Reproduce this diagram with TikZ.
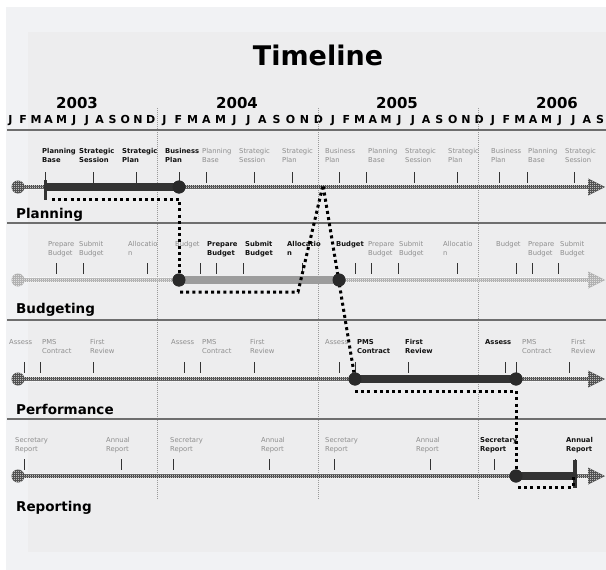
\documentclass[tikz,border=0pt]{standalone}
\usepackage{fontspec}
\setmainfont{DejaVu Sans}
\usetikzlibrary{patterns,calc}

\definecolor{bgc}{HTML}{F1F2F4}
\definecolor{bgtex}{HTML}{EDEDEE}
\definecolor{sepc}{HTML}{6E6E6E}
\definecolor{grayt}{HTML}{8E8E8E}
\definecolor{darkt}{HTML}{111111}
\definecolor{barc}{HTML}{333333}
\definecolor{axdark}{HTML}{3A3A3A}
\definecolor{axlight}{HTML}{A6A6A6}
\definecolor{budbar}{HTML}{9C9C9C}
\definecolor{dotfill}{HTML}{2A2A2A}

\pgfdeclarepatternformonly{halftone}{\pgfqpoint{0pt}{0pt}}{\pgfqpoint{2pt}{2pt}}{\pgfqpoint{2pt}{2pt}}{%
  \pgfpathrectangle{\pgfqpoint{0pt}{0pt}}{\pgfqpoint{1pt}{1pt}}%
  \pgfpathrectangle{\pgfqpoint{1pt}{1pt}}{\pgfqpoint{1pt}{1pt}}%
  \pgfusepath{fill}}

\tikzset{
  lblk/.style={font=\fontsize{6.8}{8}\selectfont\bfseries, text=darkt, anchor=base west, inner sep=0pt},
  lblg/.style={font=\fontsize{6.8}{8}\selectfont, text=grayt, anchor=base west, inner sep=0pt},
  tickln/.style={draw=black!80, line width=0.8pt},
  sepline/.style={draw=sepc, line width=1.3pt},
  yearline/.style={draw=black!40, line width=0.5pt, dash pattern=on 1pt off 1pt},
  linkdots/.style={draw=black, line width=3pt, dash pattern=on 3pt off 3.2pt},
  dotnode/.style={circle, fill=dotfill, minimum size=13pt, inner sep=0pt, outer sep=0pt},
  monthf/.style={font=\fontsize{11}{12}\selectfont\bfseries, anchor=base, inner sep=0pt},
  yearf/.style={font=\fontsize{15}{16}\selectfont\bfseries, anchor=base, inner sep=0pt},
  sectf/.style={font=\fontsize{13.5}{15}\selectfont\bfseries, anchor=base west, inner sep=0pt},
  titlef/.style={font=\fontsize{27}{30}\selectfont\bfseries, anchor=base, inner sep=0pt},
  barln/.style={draw=barc, line width=8pt},
}

% label + tick: name, label x, tick x, line1, line2, style
\newcommand\lt[6]{%
  \node[#6] (#1a) at (#2,\rb) {#4};
  \if\relax\detokenize{#5}\relax\else\node[#6] (#1b) at (#2,\rb+9.5) {#5};\fi
  \draw[tickln] (#3,\rta) -- (#3,\rtb);}

% axis row: name prefix, y, colour
\newcommand\axrow[3]{%
  \fill[#3] (18,#2-2.2) rectangle (590,#2+2.2);
  \fill[pattern=halftone, pattern color=white] (18,#2-2.2) rectangle (590,#2+2.2);
  \fill[#3] (588,#2-8.5) -- (605,#2) -- (588,#2+8.5) -- cycle;
  \fill[pattern=halftone, pattern color=white] (588,#2-8.5) -- (605,#2) -- (588,#2+8.5) -- cycle;
  \node[circle, fill=#3, minimum size=13pt, inner sep=0pt] (#1circ) at (18,#2) {};
  \fill[pattern=halftone, pattern color=white] (18,#2) circle (6.5pt);}

\begin{document}
\begin{tikzpicture}[x=1pt,y=-1pt]
\useasboundingbox (0,0) rectangle (606,570);
\fill[white] (0,0) rectangle (606,570);
\fill[bgc] (6,7) rectangle (606,570);
\fill[bgtex] (28,32) rectangle (606,552);

% title, years, months
\node[titlef] (title) at (318,65) {Timeline};
\node[yearf] (y2003) at (77,108) {2003};
\node[yearf] (y2004) at (237,108) {2004};
\node[yearf] (y2005) at (397,108) {2005};
\node[yearf] (y2006) at (557,108) {2006};
\foreach \m [count=\i from 0] in {J,F,M,A,M,J,J,A,S,O,N,D}
  \node[monthf] (ma\i) at (10.5+12.75*\i,123) {\m};
\foreach \m [count=\i from 0] in {J,F,M,A,M,J,J,A,S,O,N,D}
  \node[monthf] (mb\i) at (164.5+14.0*\i,123) {\m};
\foreach \m [count=\i from 0] in {J,F,M,A,M,J,J,A,S,O,N,D}
  \node[monthf] (mc\i) at (333+13.3*\i,123) {\m};
\foreach \m [count=\i from 0] in {J,F,M,A,M,J,J,A,S}
  \node[monthf] (md\i) at (493+13.4*\i,123) {\m};

% year lines and separators
\foreach \x in {157,318,478} \draw[yearline] (\x,108) -- (\x,499);
\draw[sepline] (7,130) -- (606,130);
\draw[sepline] (7,223) -- (606,223);
\draw[sepline] (7,320) -- (606,320);
\draw[sepline] (7,419) -- (606,419);

% section titles
\node[sectf] (tpl) at (16,218) {Planning};
\node[sectf] (tbu) at (16,313) {Budgeting};
\node[sectf] (tpe) at (16,414) {Performance};
\node[sectf] (tre) at (16,511) {Reporting};

% ---------- Planning labels
\def\rb{153}\def\rta{172}\def\rtb{183}
\lt{pl1}{42}{45}{Planning}{Base}{lblk}
\lt{pl2}{79}{93}{Strategic}{Session}{lblk}
\lt{pl3}{122}{136}{Strategic}{Plan}{lblk}
\lt{pl4}{165}{179}{Business}{Plan}{lblk}
\lt{pl5}{202}{206}{Planning}{Base}{lblg}
\lt{pl6}{239}{254}{Strategic}{Session}{lblg}
\lt{pl7}{282}{292}{Strategic}{Plan}{lblg}
\lt{pl8}{325}{339}{Business}{Plan}{lblg}
\lt{pl9}{368}{366}{Planning}{Base}{lblg}
\lt{pl10}{405}{414}{Strategic}{Session}{lblg}
\lt{pl11}{448}{457}{Strategic}{Plan}{lblg}
\lt{pl12}{491}{499}{Business}{Plan}{lblg}
\lt{pl13}{528}{527}{Planning}{Base}{lblg}
\lt{pl14}{565}{574}{Strategic}{Session}{lblg}

% ---------- Budgeting labels
\def\rb{246}\def\rta{263}\def\rtb{274}
\lt{bu1}{48}{56}{Prepare}{Budget}{lblg}
\lt{bu2}{79}{83}{Submit}{Budget}{lblg}
\lt{bu3}{128}{147}{Allocatio}{n}{lblg}
\lt{bu4}{175}{200}{Budget}{}{lblg}
\lt{bu5}{207}{216}{Prepare}{Budget}{lblk}
\lt{bu6}{245}{243}{Submit}{Budget}{lblk}
\lt{bu7}{287}{302}{Allocatio}{n}{lblk}
\lt{bu8}{336}{355}{Budget}{}{lblk}
\lt{bu9}{368}{371}{Prepare}{Budget}{lblg}
\lt{bu10}{399}{398}{Submit}{Budget}{lblg}
\lt{bu11}{443}{457}{Allocatio}{n}{lblg}
\lt{bu12}{496}{516}{Budget}{}{lblg}
\lt{bu13}{528}{532}{Prepare}{Budget}{lblg}
\lt{bu14}{560}{558}{Submit}{Budget}{lblg}

% ---------- Performance labels
\def\rb{344}\def\rta{362}\def\rtb{373}
\lt{pe1}{9}{24}{Assess}{}{lblg}
\lt{pe2}{42}{40}{PMS}{Contract}{lblg}
\lt{pe3}{90}{93}{First}{Review}{lblg}
\lt{pe4}{171}{184}{Assess}{}{lblg}
\lt{pe5}{202}{200}{PMS}{Contract}{lblg}
\lt{pe6}{250}{254}{First}{Review}{lblg}
\lt{pe7}{325}{339}{Assess}{}{lblg}
\lt{pe8}{357}{355}{PMS}{Contract}{lblk}
\lt{pe9}{405}{408}{First}{Review}{lblk}
\lt{pe10}{485}{505}{Assess}{}{lblk}
\lt{pe11}{522}{516}{PMS}{Contract}{lblg}
\lt{pe12}{571}{569}{First}{Review}{lblg}

% ---------- Reporting labels
\def\rb{442}\def\rta{459}\def\rtb{470}
\lt{re1}{15}{24}{Secretary}{Report}{lblg}
\lt{re2}{106}{121}{Annual}{Report}{lblg}
\lt{re3}{170}{173}{Secretary}{Report}{lblg}
\lt{re4}{261}{269}{Annual}{Report}{lblg}
\lt{re5}{325}{334}{Secretary}{Report}{lblg}
\lt{re6}{416}{430}{Annual}{Report}{lblg}
\lt{re7}{480}{494}{Secretary}{Report}{lblk}
\lt{re8}{566}{575}{Annual}{Report}{lblk}

% ---------- axes
\axrow{pl}{187}{axdark}
\axrow{bu}{280}{axlight}
\axrow{pe}{379}{axdark}
\axrow{re}{476}{axdark}

% ---------- anchor points
\coordinate (plS) at (45,187);
\coordinate (reE) at (575,476);
\coordinate (apex) at (323,185);
\node[dotnode] (plE) at (179,187) {};
\node[dotnode] (buS) at (179,280) {};
\node[dotnode] (buE) at (339,280) {};
\node[dotnode] (peS) at (355,379) {};
\node[dotnode] (peE) at (516,379) {};
\node[dotnode] (reS) at (516,476) {};

% ---------- bars
\draw[barln] (plS) -- (plE.center);
\draw[draw=barc, line width=3pt] (45,180) -- (45,200);
\draw[draw=budbar, line width=8pt] (buS.center) -- (buE.center);
\draw[barln] (peS.center) -- (peE.center);
\draw[barln] (reS.center) -- (reE);
\draw[draw=barc, line width=3.5pt] (575,460) -- (575,488);

% ---------- dotted links
\draw[linkdots] ($(plS)+(7,12)$) -| (buS.north);
\draw[linkdots] ($(buS)+(1,12)$) -- (298,292) -- (apex) -- (peS);
\draw[linkdots] ($(peS)+(0,12)$) -| (reS.north);
\draw[linkdots] ($(reS)+(2,11)$) -| ($(reE)+(-2,0)$);

% ---------- circles on top
\foreach \n/\x/\y in {plE2/179/187, buS2/179/280, buE2/339/280, peS2/355/379, peE2/516/379, reS2/516/476}
  \node[dotnode] (\n) at (\x,\y) {};
\end{tikzpicture}
\end{document}
